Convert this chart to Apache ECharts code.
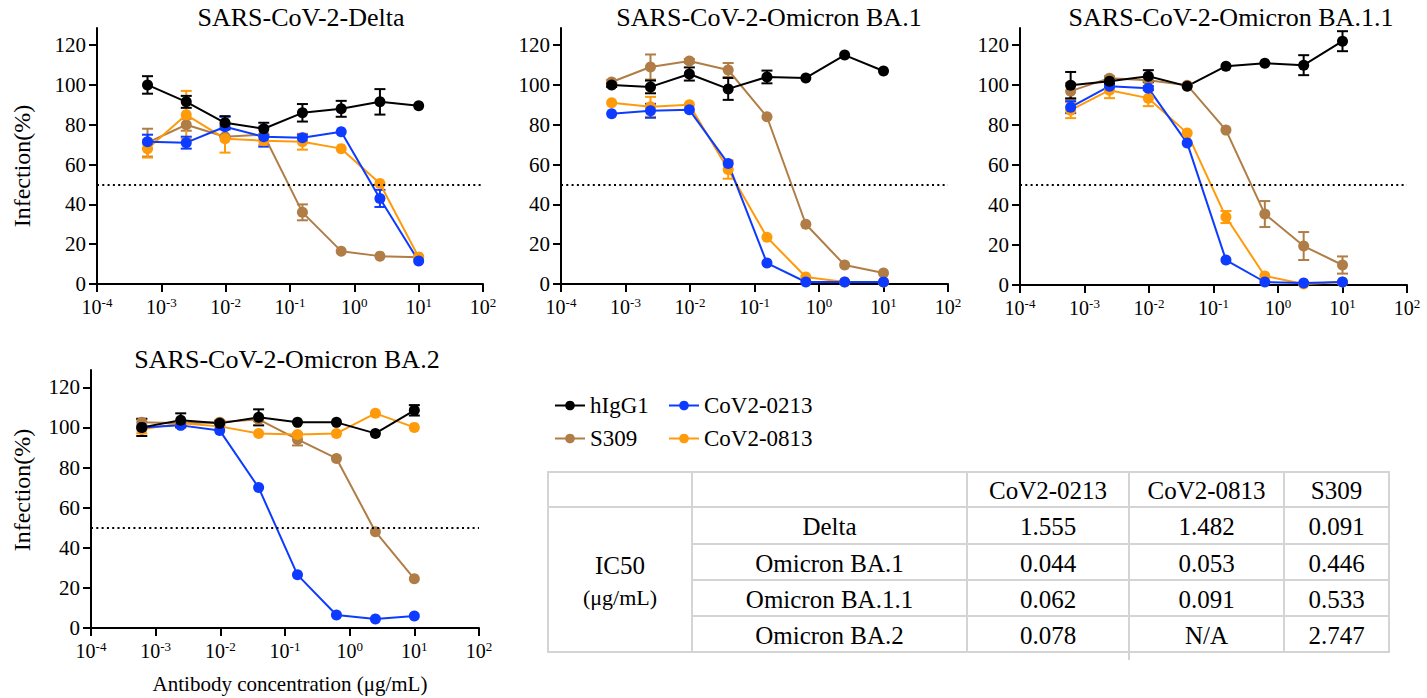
<!DOCTYPE html>
<html>
<head>
<meta charset="utf-8">
<script src="https://cdn.jsdelivr.net/npm/echarts@6/dist/echarts.min.js"></script>
<style>html,body{margin:0;padding:0;background:#fff}#c{width:1427px;height:698px}</style>
</head>
<body>
<div id="c"></div>
<script>
// ---------- DATA ----------
const conc = [0.00061, 0.00244, 0.00977, 0.0391, 0.156, 0.625, 2.5, 10];
const yTicks = [0, 20, 40, 60, 80, 100, 120];
const panelTitles = ['SARS-CoV-2-Delta', 'SARS-CoV-2-Omicron BA.1', 'SARS-CoV-2-Omicron BA.1.1', 'SARS-CoV-2-Omicron BA.2'];
const antibodies = ['hIgG1', 'S309', 'CoV2-0213', 'CoV2-0813'];

// Delta
const delta_hIgG1 = [100, 91.5, 81, 78, 86, 88, 91.5, 89.5];
const delta_hIgG1_err = [4.4, 3, 3.3, 3, 4.4, 4, 6.4, 0];
const delta_S309 = [71, 80, 74, 75, 36, 16.5, 14, 13.5];
const delta_S309_err = [7, 3, 0, 0, 4, 0, 0, 0];
const delta_0213 = [71.5, 71, 79, 74, 73.5, 76.5, 43, 11.5];
const delta_0213_err = [3.5, 3, 5, 5, 1.5, 0, 4.3, 0];
const delta_0813 = [68, 85, 73, 72, 71.5, 68, 50.5, 13.5];
const delta_0813_err = [4.5, 12, 7, 2, 4, 0, 0, 0];

// Omicron BA.1
const ba1_hIgG1 = [100, 99, 105.5, 98, 104, 103.5, 115, 107];
const ba1_hIgG1_err = [1, 3.2, 3.3, 5.5, 3.2, 0, 0, 0];
const ba1_S309 = [101.5, 109, 112, 107.5, 84, 30, 9.5, 5.5];
const ba1_S309_err = [1, 6.3, 1, 3.5, 0, 0, 0, 0];
const ba1_0213 = [85.5, 87, 87.5, 60.5, 10.5, 1, 1, 1];
const ba1_0213_err = [0, 3.5, 0, 0, 0, 0, 0, 0];
const ba1_0813 = [91, 89, 90, 57.5, 23.5, 3.5, 1, 1];
const ba1_0813_err = [0, 5, 0, 4.6, 0, 0, 0, 0];

// Omicron BA.1.1
const ba11_hIgG1 = [100, 102, 104.5, 99.5, 109.5, 111, 110, 122];
const ba11_hIgG1_err = [6.6, 1.5, 3, 0, 0, 0, 5, 5];
const ba11_S309 = [97, 103.5, 102.5, 100, 77.5, 35.5, 19.5, 10];
const ba11_S309_err = [4, 1, 1, 0, 0, 6.5, 7, 4.3];
const ba11_0213 = [89, 99.5, 98.5, 71, 12.5, 1.5, 1, 1.5];
const ba11_0213_err = [3, 1, 1, 0, 0, 0, 0, 0];
const ba11_0813 = [87.5, 97.5, 93.5, 76, 34, 4.5, 0.5, 1.5];
const ba11_0813_err = [4, 4, 4, 0, 3, 0, 0, 0];

// Omicron BA.2
const ba2_hIgG1 = [100, 103.5, 102, 105, 102.5, 102.5, 97, 108.5];
const ba2_hIgG1_err = [4.3, 3.5, 1, 4, 0, 0, 0, 2.6];
const ba2_S309 = [102.5, 102, 102.5, 104, 94, 84.5, 48, 24.5];
const ba2_S309_err = [1.5, 1, 1, 1, 3, 0, 0, 0];
const ba2_0213 = [100, 101, 98.5, 70, 26.5, 6.5, 4.5, 6];
const ba2_0213_err = [0, 0, 0, 0, 0, 0, 0, 0];
const ba2_0813 = [99, 102, 100.5, 97, 96.5, 97, 107, 100];
const ba2_0813_err = [2, 1, 0, 0, 0, 0, 0, 0];

// IC50 table
const tableCols = ['CoV2-0213', 'CoV2-0813', 'S309'];
const tableRows = ['Delta', 'Omicron BA.1', 'Omicron BA.1.1', 'Omicron BA.2'];
const ic50_0213 = ['1.555', '0.044', '0.062', '0.078'];
const ic50_0813 = ['1.482', '0.053', '0.091', 'N/A'];
const ic50_S309 = ['0.091', '0.446', '0.533', '2.747'];

// ---------- STYLE / LAYOUT ----------
const FONT = 'Liberation Serif';
const colors = {'hIgG1': '#000000', 'S309': '#b07d46', 'CoV2-0213': '#0d3bff', 'CoV2-0813': '#ff9a0a'};
const panelValues = [
  {'hIgG1': [delta_hIgG1, delta_hIgG1_err], 'S309': [delta_S309, delta_S309_err], 'CoV2-0213': [delta_0213, delta_0213_err], 'CoV2-0813': [delta_0813, delta_0813_err]},
  {'hIgG1': [ba1_hIgG1, ba1_hIgG1_err], 'S309': [ba1_S309, ba1_S309_err], 'CoV2-0213': [ba1_0213, ba1_0213_err], 'CoV2-0813': [ba1_0813, ba1_0813_err]},
  {'hIgG1': [ba11_hIgG1, ba11_hIgG1_err], 'S309': [ba11_S309, ba11_S309_err], 'CoV2-0213': [ba11_0213, ba11_0213_err], 'CoV2-0813': [ba11_0813, ba11_0813_err]},
  {'hIgG1': [ba2_hIgG1, ba2_hIgG1_err], 'S309': [ba2_S309, ba2_S309_err], 'CoV2-0213': [ba2_0213, ba2_0213_err], 'CoV2-0813': [ba2_0813, ba2_0813_err]}
];
const gridBoxes = [
  {left: 97, top: 28, width: 386, height: 256},
  {left: 561, top: 28, width: 387, height: 256},
  {left: 1020, top: 28, width: 387, height: 257},
  {left: 91, top: 370, width: 388, height: 258}
];
const titlePos = [[301, 17], [769, 17], [1231, 17], [287, 359]];
const drawOrder = ['S309', 'CoV2-0813', 'CoV2-0213', 'hIgG1'];

function errRender(color) {
  return function (params, api) {
    const x = api.value(0), y = api.value(1), e = api.value(2);
    if (!e) return null;
    const t = api.coord([x, y + e]), b = api.coord([x, y - e]);
    const hw = 5.5;
    const st = {stroke: color, lineWidth: 2};
    return {type: 'group', children: [
      {type: 'line', shape: {x1: t[0], y1: t[1], x2: b[0], y2: b[1]}, style: st},
      {type: 'line', shape: {x1: t[0] - hw, y1: t[1], x2: t[0] + hw, y2: t[1]}, style: st},
      {type: 'line', shape: {x1: b[0] - hw, y1: b[1], x2: b[0] + hw, y2: b[1]}, style: st}
    ]};
  };
}

const grid = gridBoxes.map(g => Object.assign({containLabel: false}, g));
const xAxis = gridBoxes.map((g, i) => ({
  type: 'log', logBase: 10, gridIndex: i, min: 0.0001, max: 100, splitNumber: 6,
  axisLine: {show: true, lineStyle: {color: '#000', width: 2}},
  axisTick: {show: true, length: 8, lineStyle: {color: '#000', width: 2}},
  minorTick: {show: false}, splitLine: {show: false},
  axisLabel: {
    margin: 12, color: '#000',
    formatter: v => '{b|10}{s|' + Math.round(Math.log10(v)) + '}',
    rich: {
      b: {fontSize: 20, fontFamily: FONT, color: '#000', lineHeight: 22},
      s: {fontSize: 13, fontFamily: FONT, color: '#000', lineHeight: 13, verticalAlign: 'top'}
    }
  }
}));
const yAxis = gridBoxes.map((g, i) => ({
  type: 'value', gridIndex: i, min: 0, max: 128.6, interval: 20,
  axisLine: {show: true, lineStyle: {color: '#000', width: 2}},
  axisTick: {show: true, length: 8, lineStyle: {color: '#000', width: 2}, customValues: yTicks},
  splitLine: {show: false},
  axisLabel: {margin: 11, color: '#000', fontSize: 21, fontFamily: FONT, customValues: yTicks}
}));

const series = [];
panelValues.forEach((pv, gi) => {
  drawOrder.forEach(name => {
    const [vals, errs] = pv[name];
    series.push({
      type: 'custom', name: name + ' err', xAxisIndex: gi, yAxisIndex: gi,
      renderItem: errRender(colors[name]), encode: {x: 0, y: 1}, silent: true,
      data: conc.map((c, k) => [c, vals[k], errs[k]])
    });
    const s = {
      type: 'line', name: name, xAxisIndex: gi, yAxisIndex: gi,
      data: conc.map((c, k) => [c, vals[k]]),
      symbol: 'circle', symbolSize: 11, showSymbol: true,
      lineStyle: {color: colors[name], width: 2},
      itemStyle: {color: colors[name]},
      emphasis: {disabled: true}
    };
    if (name === 'hIgG1') {
      s.markLine = {
        silent: true, symbol: ['none', 'none'], label: {show: false},
        lineStyle: {color: '#000', type: [2, 3.3], width: 2},
        data: [{yAxis: 50}]
      };
    }
    series.push(s);
  });
});

// graphics: titles, axis names, table
const graphic = [];
panelTitles.forEach((t, i) => {
  graphic.push({type: 'text', x: titlePos[i][0], y: titlePos[i][1],
    style: {text: t, fontSize: 26, fontFamily: FONT, fill: '#000', textAlign: 'center', textVerticalAlign: 'middle'}});
});
[[22, 166], [22, 490]].forEach(p => {
  graphic.push({type: 'text', x: p[0], y: p[1], rotation: Math.PI / 2,
    style: {text: 'Infection(%)', fontSize: 24, fontFamily: FONT, fill: '#000', textAlign: 'center', textVerticalAlign: 'middle'}});
});
graphic.push({type: 'text', x: 290, y: 684,
  style: {text: 'Antibody concentration (μg/mL)', fontSize: 21, fontFamily: FONT, fill: '#000', textAlign: 'center', textVerticalAlign: 'middle'}});

const tX = [548, 692, 967, 1129, 1284, 1389];
const tY = [472, 507, 544, 580, 616, 652];
const lineSt = {stroke: '#d4d4d4', lineWidth: 2};
tY.forEach((y, k) => {
  const x1 = (k === 0 || k === 1 || k === tY.length - 1) ? tX[0] : tX[1];
  graphic.push({type: 'line', shape: {x1: x1, y1: y, x2: tX[tX.length - 1] + 1, y2: y}, style: lineSt});
});
tX.forEach((x, k) => {
  graphic.push({type: 'line', shape: {x1: x, y1: tY[0] - 1, x2: x, y2: (k === 3 ? 660 : tY[tY.length - 1] + 1)}, style: lineSt});
});
const TFS = 25;
tableCols.forEach((c, j) => {
  graphic.push({type: 'text', x: (tX[j + 2] + tX[j + 3]) / 2, y: (tY[0] + tY[1]) / 2 + 1,
    style: {text: c, fontSize: TFS, fontFamily: FONT, fill: '#000', textAlign: 'center', textVerticalAlign: 'middle'}});
});
const tableVals = [ic50_0213, ic50_0813, ic50_S309];
tableRows.forEach((r, i) => {
  const cy = (tY[i + 1] + tY[i + 2]) / 2 + 1;
  graphic.push({type: 'text', x: (tX[1] + tX[2]) / 2, y: cy,
    style: {text: r, fontSize: TFS, fontFamily: FONT, fill: '#000', textAlign: 'center', textVerticalAlign: 'middle'}});
  tableVals.forEach((col, j) => {
    graphic.push({type: 'text', x: (tX[j + 2] + tX[j + 3]) / 2, y: cy,
      style: {text: col[i], fontSize: TFS, fontFamily: FONT, fill: '#000', textAlign: 'center', textVerticalAlign: 'middle'}});
  });
});
graphic.push({type: 'text', x: (tX[0] + tX[1]) / 2, y: 565,
  style: {text: 'IC50', fontSize: 25, fontFamily: FONT, fill: '#000', textAlign: 'center', textVerticalAlign: 'middle'}});
graphic.push({type: 'text', x: (tX[0] + tX[1]) / 2, y: 597,
  style: {text: '(μg/mL)', fontSize: 22, fontFamily: FONT, fill: '#000', textAlign: 'center', textVerticalAlign: 'middle'}});

const legendBase = {
  orient: 'vertical', top: 389, itemWidth: 30, itemHeight: 12, itemGap: 10, itemTextGap: 14,
  textStyle: {fontSize: 23, fontFamily: FONT, color: '#000'}, selectedMode: false
};
const option = {
  animation: false,
  backgroundColor: '#fff',
  grid: grid, xAxis: xAxis, yAxis: yAxis, series: series, graphic: graphic,
  legend: [
    Object.assign({}, legendBase, {left: 549, data: [antibodies[0], antibodies[1]]}),
    Object.assign({}, legendBase, {left: 663, data: [antibodies[2], antibodies[3]]})
  ]
};
const chart = echarts.init(document.getElementById('c'), null, {renderer: 'svg'});
chart.setOption(option);
</script>
</body>
</html>
